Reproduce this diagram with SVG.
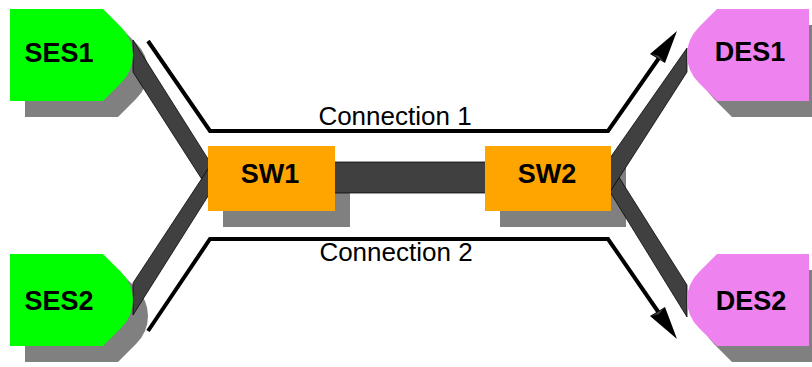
<svg xmlns="http://www.w3.org/2000/svg" width="812" height="367" viewBox="0 0 812 367">
<defs>
<style>
.shadow{fill:#808080}
.band{fill:#404040;stroke:#000;stroke-width:0.75;stroke-linejoin:miter}
.conn{fill:none;stroke:#000;stroke-width:4;stroke-linejoin:miter}
.head{fill:#000}
.headin{fill:#404040}
.ses{fill:#00ff00}
.des{fill:#ee82ee}
.sw{fill:#ffa500}
.lbl{font-family:"Liberation Sans",Arial,sans-serif;font-weight:bold;font-size:27px;fill:#000;text-anchor:middle}
.clbl{font-family:"Liberation Sans",Arial,sans-serif;font-size:26px;fill:#000;text-anchor:middle}
</style>
<path id="lshape" d="M10,9 H103 L121,27 Q133,39 133,55 Q133,71 121,83 L103,101 H10 Z"/>
<path id="rshape" d="M809,9 H717 L699,27 Q687,39 687,55 Q687,71 699,83 L717,101 H809 Z"/>
</defs>
<rect width="812" height="367" fill="#fff"/>
<g id="shadows">
<use href="#lshape" class="shadow" transform="translate(15,16)"/>
<use href="#lshape" class="shadow" transform="translate(15,261)"/>
<use href="#rshape" class="shadow" transform="translate(15,16)"/>
<use href="#rshape" class="shadow" transform="translate(15,261)"/>
<rect class="shadow" x="223" y="162" width="127" height="65"/>
<rect class="shadow" x="500" y="162" width="126" height="65"/>
</g>
<g id="connectors">
<polygon class="band" points="133,40 210,162 210,192 133,72"/>
<polygon class="band" points="133,283 210,166 210,193 133,315"/>
<rect class="band" x="333" y="162" width="154" height="31"/>
<polygon class="band" points="610,163 687,285 687,317 610,192"/>
<polygon class="band" points="687,48 610,158 610,192 687,72"/>
<polyline class="conn" points="148,41 210,131 608,131 659,58"/>
<polygon class="head" points="677,31 650,54 665,63"/>
<polygon class="headin" points="652,54 664,62 659,56"/>
<text class="clbl" x="395" y="125">Connection 1</text>
<polyline class="conn" points="148,331 210,239 608,239 659,313"/>
<polygon class="head" points="677,339 650,316 665,307"/>
<polygon class="headin" points="652,316 664,308 659,314"/>
<text class="clbl" x="396" y="261">Connection 2</text>
</g>
<g id="SES1">
<use href="#lshape" class="ses"/>
<text class="lbl" x="59" y="62">SES1</text>
</g>
<g id="SES2">
<use href="#lshape" class="ses" transform="translate(0,245)"/>
<text class="lbl" x="59" y="310">SES2</text>
</g>
<g id="DES1">
<use href="#rshape" class="des"/>
<text class="lbl" x="750" y="61">DES1</text>
</g>
<g id="DES2">
<use href="#rshape" class="des" transform="translate(0,245)"/>
<text class="lbl" x="751" y="310">DES2</text>
</g>
<g id="SW1">
<rect class="sw" x="208" y="146" width="127" height="65"/>
<text class="lbl" x="270" y="183">SW1</text>
</g>
<g id="SW2">
<rect class="sw" x="485" y="146" width="126" height="65"/>
<text class="lbl" x="547" y="183">SW2</text>
</g>
</svg>
